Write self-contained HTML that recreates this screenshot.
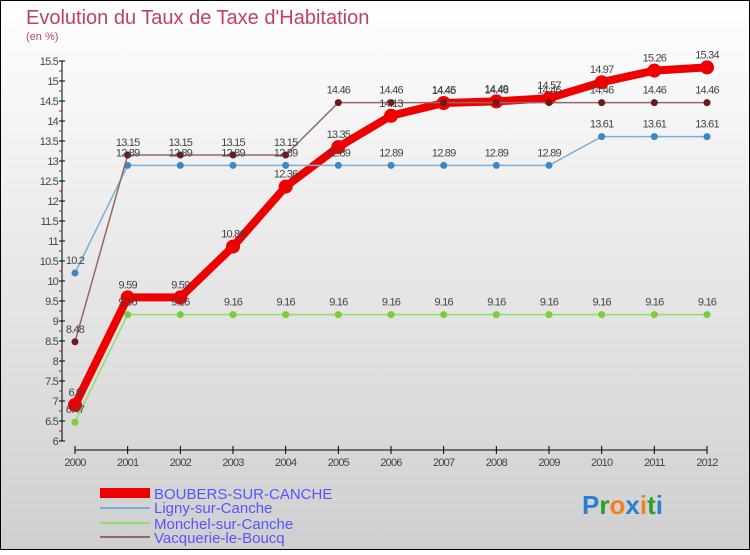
<!DOCTYPE html>
<html><head><meta charset="utf-8"><style>
html,body{margin:0;padding:0}
body{width:750px;height:550px;overflow:hidden;font-family:"Liberation Sans",sans-serif}
</style></head><body>
<svg id="chart" width="750" height="550" xmlns="http://www.w3.org/2000/svg">
<defs><linearGradient id="bg" x1="0" y1="0" x2="0" y2="1"><stop offset="0" stop-color="#ffffff"/><stop offset="1" stop-color="#cfcfcf"/></linearGradient></defs>
<rect x="0.5" y="0.5" width="749" height="549" fill="url(#bg)" stroke="#000" stroke-width="1"/>
<text x="26" y="24" font-size="20" fill="#c0406a">Evolution du Taux de Taxe d'Habitation</text>
<text x="26" y="40" font-size="11" fill="#c0406a">(en %)</text>
<g id="axes"></g><g id="series"></g><g id="labels"></g>
<g>
<rect x="100" y="488" width="50" height="10" fill="#e00"/>
<text x="154" y="499" font-size="15" fill="#5555ff">BOUBERS-SUR-CANCHE</text>
<rect x="100" y="507" width="50" height="2" fill="#7aaed8"/>
<text x="154" y="513" font-size="15" fill="#5555ff">Ligny-sur-Canche</text>
<rect x="100" y="522" width="50" height="2" fill="#90dd70"/>
<text x="154" y="529" font-size="15" fill="#5555ff">Monchel-sur-Canche</text>
<rect x="100" y="536" width="50" height="2" fill="#996666"/>
<text x="154" y="543" font-size="15" fill="#5555ff">Vacquerie-le-Boucq</text>
</g>
<text x="582" y="514" font-size="26" font-weight="bold"><tspan fill="#2a7fd4">P</tspan><tspan fill="#2aa02a">r</tspan><tspan fill="#f08020">o</tspan><tspan fill="#2a7fd4">x</tspan><tspan fill="#f08020">i</tspan><tspan fill="#2aa02a">t</tspan><tspan fill="#2a7fd4">i</tspan></text>
</svg>
<script>
const years=["2000","2001","2002","2003","2004","2005","2006","2007","2008","2009","2010","2011","2012"];
const yTicks=[6,6.5,7,7.5,8,8.5,9,9.5,10,10.5,11,11.5,12,12.5,13,13.5,14,14.5,15,15.5];
const boubers=[6.9,9.59,9.59,10.86,12.36,13.35,14.13,14.45,14.49,14.57,14.97,15.26,15.34];
const ligny=[10.2,12.89,12.89,12.89,12.89,12.89,12.89,12.89,12.89,12.89,13.61,13.61,13.61];
const monchel=[6.47,9.16,9.16,9.16,9.16,9.16,9.16,9.16,9.16,9.16,9.16,9.16,9.16];
const vacquerie=[8.48,13.15,13.15,13.15,13.15,14.46,14.46,14.46,14.46,14.46,14.46,14.46,14.46];
const NS="http://www.w3.org/2000/svg";
function xs(i){return 75+i*(632/(years.length-1));}
function ys(v){return 441-(v-6)*40;}
function mk(tag,attrs,parent){const e=document.createElementNS(NS,tag);for(const k in attrs)e.setAttribute(k,attrs[k]);parent.appendChild(e);return e;}
const axes=document.getElementById('axes'),ser=document.getElementById('series'),lab=document.getElementById('labels');
let a=mk('line',{x1:62,y1:ys(15.5),x2:62,y2:ys(6),stroke:'#000','stroke-width':1},axes);


yTicks.forEach(v=>{
 const major=Math.abs(v*2%2)<1e-9?true:(v%1===0.5);
 const t=mk('line',{x1:59,y1:ys(v),x2:65,y2:ys(v),stroke:'#000'},axes);
 
 
 const r=mk('line',{x1:59,y1:ys(v+0.25),x2:62,y2:ys(v+0.25),stroke:'#e00'},axes);
 if(v===15.5)r.remove();
 const tx=mk('text',{x:58,y:ys(v)+4,'font-size':11,fill:'#444','text-anchor':'end','letter-spacing':'-0.8'},axes);
 tx.textContent=String(v);
 
 
});
a=mk('line',{x1:75,y1:450,x2:707,y2:450,stroke:'#000'},axes);


years.forEach((y,i)=>{
 const t=mk('line',{x1:xs(i),y1:446,x2:xs(i),y2:454,stroke:'#000'},axes);
 
 
 const tx=mk('text',{x:xs(i),y:466,'font-size':11,fill:'#444','text-anchor':'middle','letter-spacing':'-0.8'},axes);
 tx.textContent=y;
 
 
});
function draw(data,name,color,w,r,dot){
 const g=mk('g',{},ser);
 
 
 const p=mk('polyline',{points:data.map((v,i)=>xs(i)+','+ys(v)).join(' '),fill:'none',stroke:color,'stroke-width':w,'stroke-linejoin':'round'},g);
 
 
 data.forEach((v,i)=>{
  const c=mk('circle',{cx:xs(i),cy:ys(v),r:r,fill:dot},g);
  
  
  const t=mk('text',{x:xs(i),y:ys(v)-9,'font-size':11,fill:'#444','text-anchor':'middle','letter-spacing':'-0.8'},lab);
  t.textContent=String(v);
  
  
 });
}
draw(boubers,'boubers','#ee0000',8,7,'#ee0000');
draw(ligny,'ligny','#7aaed8',1.5,3.5,'#3a88c8');
draw(monchel,'monchel','#90dd70',1.5,3.5,'#7ccc40');
draw(vacquerie,'vacquerie','#996666',1.5,3.5,'#6a1a1a');
</script>
</body></html>
